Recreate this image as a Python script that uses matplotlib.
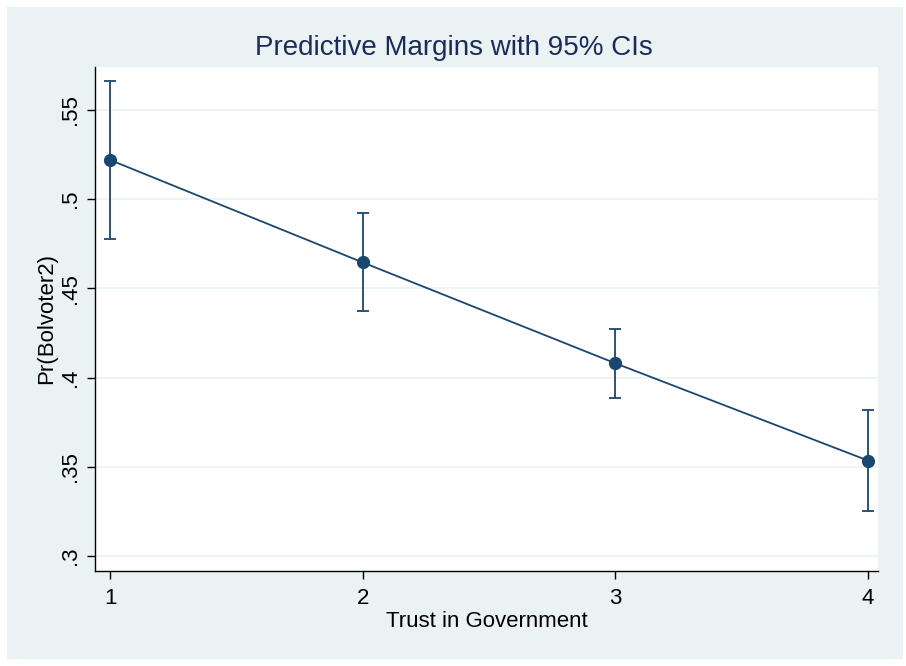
#!/usr/bin/env python3

import matplotlib
matplotlib.use("Agg")
import matplotlib.pyplot as plt
from matplotlib.patches import Rectangle


trust = [1, 2, 3, 4]
margin = [0.5219, 0.4645, 0.4080, 0.3535]
ci_low = [0.4775, 0.4371, 0.3884, 0.3253]
ci_high = [0.5663, 0.4921, 0.4274, 0.3820]

yticks = [0.30, 0.35, 0.40, 0.45, 0.50, 0.55]
ytick_labels = [".3", ".35", ".4", ".45", ".5", ".55"]

navy = "#1a476f"
title_navy = "#1c2c59"
bg = "#eaf2f3"

plt.rcParams["font.family"] = ["Liberation Sans", "DejaVu Sans"]

fig = plt.figure(figsize=(9.06, 6.66), dpi=100)
fig.patch.set_facecolor("white")
fig.patches.append(Rectangle(
    (7 / 906, 1 - 659 / 666), 896 / 906, 652 / 666,
    transform=fig.transFigure, facecolor=bg, edgecolor="none", zorder=-1
))

ax = fig.add_axes([95 / 906, 1 - 571 / 666, 783 / 906, 504 / 666])
ax.set_facecolor("white")

yerr = [
    [m - lo for m, lo in zip(margin, ci_low)],
    [hi - m for m, hi in zip(margin, ci_high)],
]
ax.errorbar(
    trust, margin, yerr=yerr,
    fmt="o-", color=navy, ecolor=navy,
    markersize=8.5, linewidth=1.3, elinewidth=1.3,
    capsize=4, capthick=1.3, zorder=3
)

ax.set_xlim(0.94, 4.04)
ax.set_ylim(0.2916, 0.574)
ax.set_xticks(trust)
ax.set_xticklabels([str(t) for t in trust])
ax.set_yticks(yticks)
ax.set_yticklabels(ytick_labels, rotation=90, va="center")
ax.grid(axis="y", color=bg, linewidth=1.2)
ax.set_axisbelow(True)

for side in ("top", "right"):
    ax.spines[side].set_visible(False)
for side in ("left", "bottom"):
    ax.spines[side].set_color("black")
    ax.spines[side].set_linewidth(1.0)

ax.tick_params(axis="both", direction="out", length=6, width=1.0,
               labelsize=16, colors="black")
ax.tick_params(axis="x", pad=6)
ax.tick_params(axis="y", pad=4)

ax.set_xlabel("Trust in Government", fontsize=16, labelpad=2)
ax.set_ylabel("Pr(Bolvoter2)", fontsize=16, labelpad=2)
fig.text(454 / 906, 1 - 48 / 666, "Predictive Margins with 95% CIs",
         ha="center", va="center", fontsize=20, color=title_navy)

fig.savefig("out.png", dpi=100, facecolor=fig.get_facecolor())
